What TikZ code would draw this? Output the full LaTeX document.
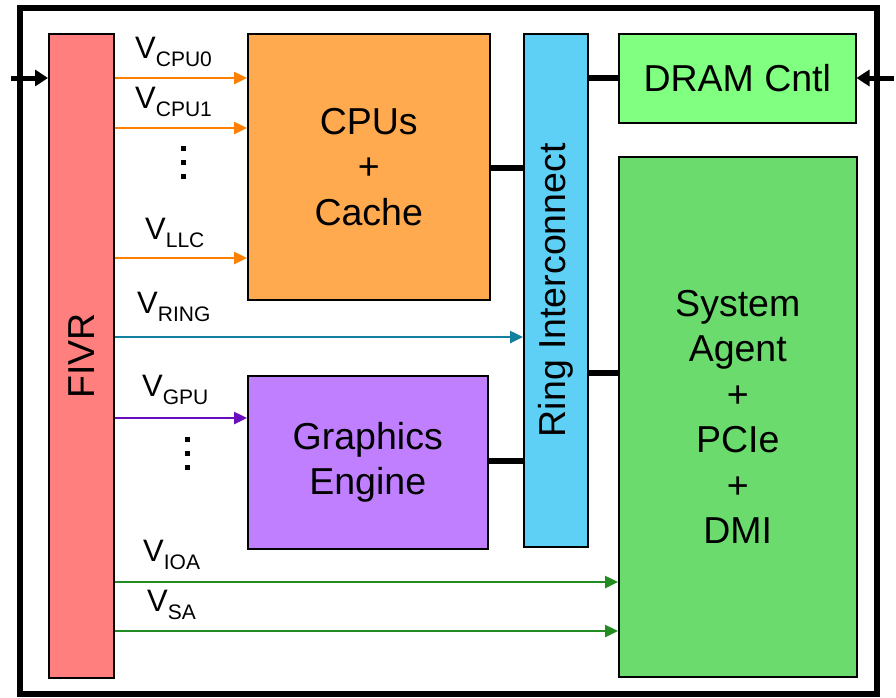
\documentclass[tikz,border=0pt]{standalone}
\usepackage{fontspec}
\usepackage{graphicx}
\setmainfont{Liberation Sans}
\usetikzlibrary{arrows.meta}

\definecolor{fivrred}{HTML}{FF7F7F}
\definecolor{cpuorange}{HTML}{FFAA4F}
\definecolor{ringblue}{HTML}{5FD0F5}
\definecolor{dramgreen}{HTML}{80FF80}
\definecolor{sagreen}{HTML}{6BDB6E}
\definecolor{gpupurple}{HTML}{C07FFF}
\definecolor{arrorange}{HTML}{FF8000}
\definecolor{arrteal}{HTML}{1380A0}
\definecolor{arrpurple}{HTML}{6A0DC0}
\definecolor{arrgreen}{HTML}{228B22}

\newcommand{\bigfont}{\fontsize{37.5}{45.5}\selectfont}
\newcommand{\volt}[1]{\fontsize{31}{31}\selectfont V\raisebox{-8pt}{\fontsize{21}{21}\selectfont #1}}

\tikzset{
  block/.style={draw=black, line width=1.5pt, inner sep=0pt, anchor=north west,
                align=center, font=\bigfont},
  bus/.style={line width=6pt},
  feed/.style={line width=5pt, -{Triangle[length=13pt,width=16pt]}},
  rail/.style={line width=2.5pt, -{Triangle[length=13pt,width=12pt]}},
  vlab/.style={anchor=base west, inner sep=0pt},
  vdot/.style={fill=black, minimum size=5pt, inner sep=0pt},
}

\begin{document}
\begin{tikzpicture}[x=1pt, y=-1pt]
\useasboundingbox (0,0) rectangle (896,697);

% chip outline
\draw[line width=6pt] (20,8) rectangle (877,694);

% blocks
\node[block, fill=fivrred, minimum width=65pt, minimum height=644pt] (fivr) at (48,33)
  {\rotatebox{90}{FIVR}};
\node[block, fill=cpuorange, minimum width=242pt, minimum height=266pt] (cpu) at (247,33)
  {CPUs\\+\\Cache};
\node[block, fill=ringblue, minimum width=64pt, minimum height=513pt] (ring) at (523,33)
  {\rotatebox{90}{Ring Interconnect}};
\node[block, fill=dramgreen, minimum width=237pt, minimum height=89pt] (dram) at (618,33)
  {DRAM Cntl};
\node[block, fill=sagreen, minimum width=238pt, minimum height=520pt] (sa) at (618,156)
  {System\\Agent\\+\\PCIe\\+\\DMI};
\node[block, fill=gpupurple, minimum width=240pt, minimum height=173pt] (gpu) at (247,375)
  {Graphics\\Engine};

% rail heights
\coordinate (y0) at (0,78);
\coordinate (y1) at (0,128);
\coordinate (yllc) at (0,258);
\coordinate (yring) at (0,337);
\coordinate (ygpu) at (0,418);
\coordinate (yioa) at (0,582);
\coordinate (ysa) at (0,631);
\coordinate (bcpu) at (0,168);
\coordinate (bsa) at (0,373);
\coordinate (bgpu) at (0,461);

% external supply and memory ports
\coordinate (inL) at (11,78);
\coordinate (inR) at (894,78);
\draw[feed] (inL) -- (fivr.west |- y0);
\draw[feed] (inR) -- (dram.east |- y0);

% internal buses
\draw[bus] (ring.east |- y0) -- (dram.west |- y0);
\draw[bus] (cpu.east |- bcpu) -- (ring.west |- bcpu);
\draw[bus] (ring.east |- bsa) -- (sa.west |- bsa);
\draw[bus] (gpu.east |- bgpu) -- (ring.west |- bgpu);

% voltage rails
\draw[rail, arrorange] (fivr.east |- y0) -- (cpu.west |- y0);
\draw[rail, arrorange] (fivr.east |- y1) -- (cpu.west |- y1);
\draw[rail, arrorange] (fivr.east |- yllc) -- (cpu.west |- yllc);
\draw[rail, arrteal] (fivr.east |- yring) -- (ring.west |- yring);
\draw[rail, arrpurple] (fivr.east |- ygpu) -- (gpu.west |- ygpu);
\draw[rail, arrgreen] (fivr.east |- yioa) -- (sa.west |- yioa);
\draw[rail, arrgreen] (fivr.east |- ysa) -- (sa.west |- ysa);

% rail labels
\node[vlab] (lcpu0) at (135,58) {\volt{CPU0}};
\node[vlab] (lcpu1) at (135,108) {\volt{CPU1}};
\node[vlab] (lllc) at (145,239) {\volt{LLC}};
\node[vlab] (lring) at (137,313) {\volt{RING}};
\node[vlab] (lgpu) at (142,396) {\volt{GPU}};
\node[vlab] (lioa) at (143,561) {\volt{IOA}};
\node[vlab] (lsa) at (147,611) {\volt{SA}};

% vertical ellipses
\node[vdot] (d1) at (183,148) {};
\node[vdot] (d2) at (183,162) {};
\node[vdot] (d3) at (183,176) {};
\node[vdot] (d4) at (187,439) {};
\node[vdot] (d5) at (187,453) {};
\node[vdot] (d6) at (187,467) {};
\end{tikzpicture}
\end{document}
